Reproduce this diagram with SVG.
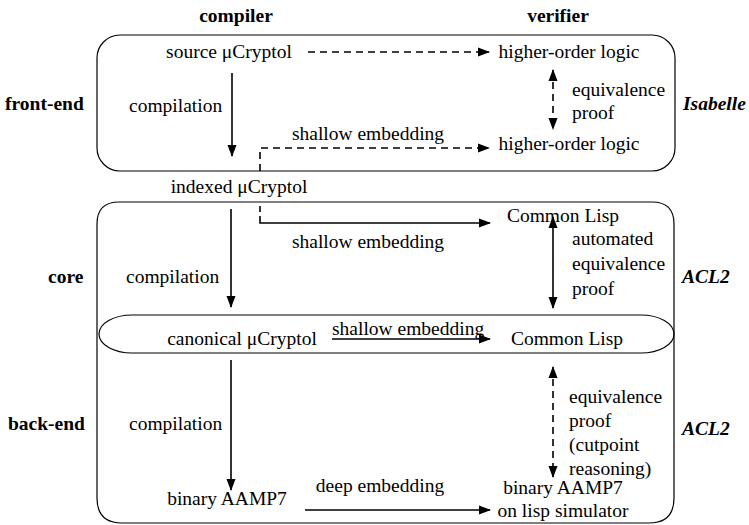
<svg xmlns="http://www.w3.org/2000/svg" width="749" height="525" viewBox="0 0 749 525" font-family="'Liberation Serif', 'DejaVu Serif', serif">
<style>
text{font-family:'Liberation Serif','DejaVu Serif',serif;font-size:19.5px;fill:#000}
.b{font-weight:bold}
.bi{font-weight:bold;font-style:italic}
.m{text-anchor:middle}
.box{fill:none;stroke:#000;stroke-width:1.2}
.a{fill:none;stroke:#000;stroke-width:1.6}
.d{stroke-dasharray:7,5}
</style>
<defs>
<marker id="ah" markerUnits="userSpaceOnUse" markerWidth="12" markerHeight="10" refX="11" refY="5" orient="auto-start-reverse" viewBox="0 0 12 10">
<path d="M0,0.5 L12,5 L0,9.5 z" fill="#000"/>
</marker>
</defs>
<rect width="749" height="525" fill="#fff"/>
<g id="headers">
<text class="b m" x="236" y="22">compiler</text>
<text class="b m" x="558" y="22">verifier</text>
</g>
<g id="front-end">
<rect class="box" x="97" y="35" width="578" height="136" rx="23" ry="23"/>
<text class="b" x="5" y="110">front-end</text>
<text class="bi" x="683" y="110">Isabelle</text>
</g>
<g id="core">
<path class="box" d="M97,337 V224 Q97,202 119,202 H652 Q674,202 674,224 V337"/>
<text class="b" x="48" y="283">core</text>
<text class="bi" x="682" y="283">ACL2</text>
</g>
<g id="back-end">
<path class="box" d="M97,337 V498 Q97,523 122,523 H649 Q674,523 674,498 V337"/>
<text class="b" x="8" y="430">back-end</text>
<text class="bi" x="682" y="435">ACL2</text>
</g>
<g id="canonical-row">
<rect class="box" x="99" y="315" width="575" height="38" rx="33" ry="19"/>
</g>
<g id="source">
<text class="m" x="229" y="58">source μCryptol</text>
</g>
<g id="hol1">
<text class="m" x="569" y="58">higher-order logic</text>
</g>
<g id="hol2">
<text class="m" x="569" y="150">higher-order logic</text>
</g>
<g id="indexed">
<text class="m" x="239" y="193">indexed μCryptol</text>
</g>
<g id="cl1">
<text class="m" x="563" y="222">Common Lisp</text>
</g>
<g id="canonical">
<text class="m" x="242" y="345">canonical μCryptol</text>
</g>
<g id="cl2">
<text class="m" x="567" y="345">Common Lisp</text>
</g>
<g id="binary">
<text class="m" x="227" y="505">binary AAMP7</text>
</g>
<g id="sim">
<text class="m" x="563" y="494">binary AAMP7</text>
<text class="m" x="563" y="517">on lisp simulator</text>
</g>
<g id="connectors">
<path class="a d" d="M308,52 H489" marker-end="url(#ah)"/>
<path class="a d" d="M553,70 V129" marker-start="url(#ah)" marker-end="url(#ah)"/>
<path class="a" d="M232,73 V156" marker-end="url(#ah)"/>
<path class="a d" d="M260,171 V148 H489" marker-end="url(#ah)"/>
<path class="a" d="M260,206 V223 H490" stroke-dasharray="6,4,1000" marker-end="url(#ah)"/>
<path class="a" d="M231,209 V307" marker-end="url(#ah)"/>
<path class="a" d="M553,217 V308" marker-start="url(#ah)" marker-end="url(#ah)"/>
<path class="a" d="M332,339 H490" marker-end="url(#ah)"/>
<path class="a" d="M231,360 V490" marker-end="url(#ah)"/>
<path class="a d" d="M553,367 V477" marker-start="url(#ah)" marker-end="url(#ah)"/>
<path class="a" d="M305,510 H490" marker-end="url(#ah)"/>
</g>
<g id="labels">
<text x="129" y="112">compilation</text>
<text class="m" x="368" y="140">shallow embedding</text>
<text x="572" y="96">equivalence</text>
<text x="572" y="119">proof</text>
<text class="m" x="368" y="248">shallow embedding</text>
<text x="126" y="283">compilation</text>
<text x="572" y="245">automated</text>
<text x="572" y="270">equivalence</text>
<text x="572" y="295">proof</text>
<text x="332" y="335">shallow embedding</text>
<text x="129" y="430">compilation</text>
<text class="m" x="380" y="492">deep embedding</text>
<text x="569" y="403">equivalence</text>
<text x="569" y="427">proof</text>
<text x="569" y="451">(cutpoint</text>
<text x="569" y="475">reasoning)</text>
</g>
</svg>
